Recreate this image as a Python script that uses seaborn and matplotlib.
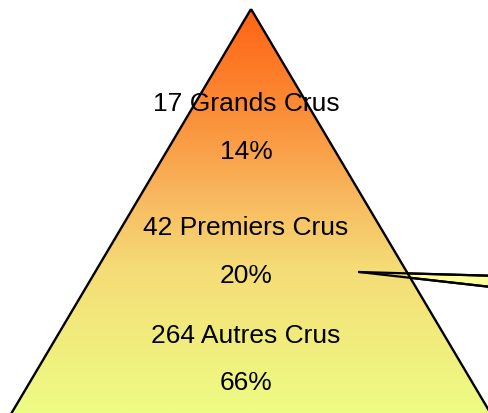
import numpy as np
import matplotlib
matplotlib.use("Agg")
import matplotlib.pyplot as plt
from matplotlib.colors import LinearSegmentedColormap
from matplotlib.patches import Polygon
import seaborn as sns

# Data
categories = ["Grands Crus", "Premiers Crus", "Autres Crus"]
counts = [17, 42, 264]
percents = [14, 20, 66]

sns.set_theme(style="white")
plt.rcParams['font.family'] = ['Liberation Sans', 'DejaVu Sans']

W, H = 488, 413
fig = plt.figure(figsize=(W / 100, H / 100), dpi=100)
ax = fig.add_axes([0, 0, 1, 1])
ax.set_xlim(0, W)
ax.set_ylim(H, 0)
ax.axis("off")

# Callout wedge (behind the pyramid)
tip = (359, 272)
wedge = Polygon([tip, (500, 276.0), (500, 288.0)], closed=True,
                facecolor="#ffff99", edgecolor="black", lw=1.6, zorder=1)
ax.add_patch(wedge)

# Pyramid with vertical gradient
apex = (251, 9)
slope = 208 / 351
yb = 430
tri_pts = [apex, (apex[0] - slope * (yb - apex[1]), yb), (apex[0] + slope * (yb - apex[1]), yb)]
tri = Polygon(tri_pts, closed=True, facecolor="none", edgecolor="black", lw=1.7, zorder=3)
ax.add_patch(tri)

stops = [(0.0, (255, 100, 20)), (0.22, (252, 135, 50)), (0.47, (248, 185, 95)),
         (0.64, (245, 220, 118)), (1.0, (238, 252, 132))]
cmap = LinearSegmentedColormap.from_list(
    "pyr", [(p, tuple(c / 255 for c in col)) for p, col in stops])
grad = np.linspace(0, 1, 400).reshape(-1, 1)
im = ax.imshow(grad, cmap=cmap, aspect="auto", extent=[0, W, 413, 9], origin="upper",
               zorder=2, interpolation="bilinear")
clip = Polygon(tri_pts, closed=True, transform=ax.transData)
im.set_clip_path(clip)

# Callout lines drawn over the pyramid
ax.plot([tip[0], 500], [tip[1], 276.0], color="black", lw=1.6, zorder=4)
ax.plot([tip[0], 500], [tip[1], 288.0], color="black", lw=1.6, zorder=4)

# Labels
label_base = [111, 235, 343]
pct_base = [159, 283, 390]
for cat, n, p, ly, py in zip(categories, counts, percents, label_base, pct_base):
    ax.text(246, ly, f"{n} {cat}", ha="center", va="baseline", fontsize=19,
            color="black", zorder=5)
    ax.text(246, py, f"{p}%", ha="center", va="baseline", fontsize=19,
            color="black", zorder=5)

fig.savefig("out.png", dpi=100)
